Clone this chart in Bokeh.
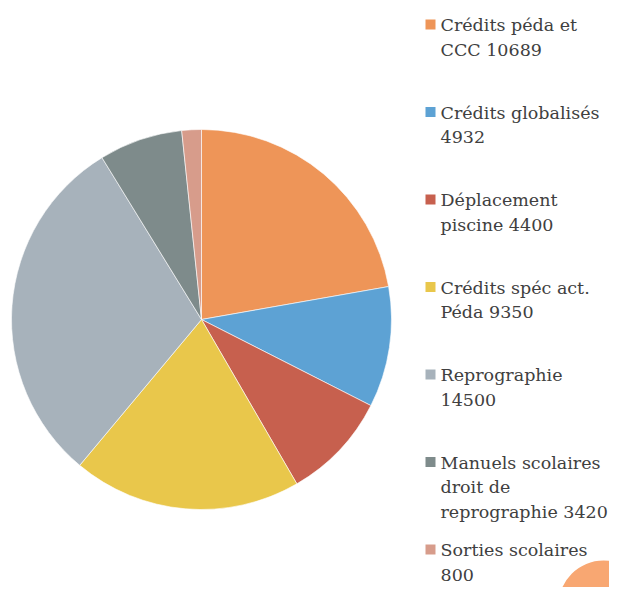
import math
from bokeh.plotting import figure
from bokeh.models import Range1d, ColumnDataSource
from bokeh.core.properties import value
from bokeh.embed import file_html
from bokeh.resources import INLINE

# ---- data ----
categories = ["Crédits péda et CCC", "Crédits globalisés", "Déplacement piscine",
              "Crédits spéc act. Péda", "Reprographie",
              "Manuels scolaires droit de reprographie", "Sorties scolaires"]
values = [10689, 4932, 4400, 9350, 14500, 3420, 800]
legend_labels = ["Crédits péda et\nCCC 10689", "Crédits globalisés\n4932",
                 "Déplacement\npiscine 4400", "Crédits spéc act.\nPéda 9350",
                 "Reprographie\n14500", "Manuels scolaires\ndroit de\nreprographie 3420",
                 "Sorties scolaires\n800"]
colors = ["#EE9558", "#5DA2D4", "#C7604E", "#E9C74B", "#A7B2BB", "#7E8B8B", "#D79C8B"]

W, H = 609, 587
p = figure(width=W, height=H, output_backend="svg", toolbar_location=None,
           x_range=Range1d(0, W), y_range=Range1d(0, H), min_border=0)
p.axis.visible = False
p.grid.visible = False
p.outline_line_color = None
p.background_fill_color = "white"
p.border_fill_color = "white"

# pie slices, starting at 12 o'clock, clockwise
total = float(sum(values))
starts, ends = [], []
acc = 0.0
for v in values:
    starts.append(math.pi / 2 - 2 * math.pi * acc / total)
    acc += v
    ends.append(math.pi / 2 - 2 * math.pi * acc / total)

src = ColumnDataSource(dict(cat=categories, val=values, start=starts, end=ends, color=colors))
cx, cy, r = 201, H - 319, 190
p.wedge(x=cx, y=cy, radius=r, start_angle="start", end_angle="end", direction="clock",
        fill_color="color", line_color="white", line_width=1, line_alpha=0.6, source=src)

# decorative orange disc at bottom right (present in reference)
p.circle(x=[603], y=[H - 605], radius=45, fill_color="#F8A772", line_color=None)

# legend
first, step, line_h = 24, 87.5, 24.5
text_shift = -6
mx, tx = 430, 440
xs, ys, txts = [], [], []
mkx, mky = [], []
for i, lab in enumerate(legend_labels):
    yc = first + i * step
    mkx.append(mx)
    mky.append(H - yc)
    for k, line in enumerate(lab.split("\n")):
        xs.append(tx)
        ys.append(H - (yc + text_shift + 6.5 + k * line_h))
        txts.append(line)

p.scatter(x=mkx, y=mky, marker="square", size=10, fill_color=colors, line_color=None)
p.text(x=xs, y=ys, text=txts, text_font=value("DejaVu Serif"), text_font_size="17.5px",
       text_color="#404040", text_baseline="alphabetic", text_align="left")

open("out.html", "w").write(file_html(p, INLINE))
